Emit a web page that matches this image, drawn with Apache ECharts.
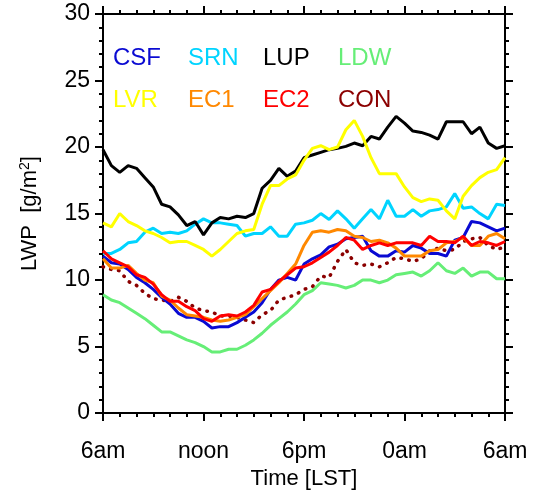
<!DOCTYPE html>
<html>
<head>
<meta charset="utf-8">
<script src="https://cdn.jsdelivr.net/npm/echarts@6/dist/echarts.min.js"></script>
<style>
  body { margin: 0; background: #fff; }
</style>
</head>
<body>
<div id="lwpChart" style="width: 536px; height: 495px;"></div>
<script>
// hours after 6am LST, every 30 min
const hours = [0, 0.5, 1, 1.5, 2, 2.5, 3, 3.5, 4, 4.5, 5, 5.5, 6, 6.5, 7, 7.5, 8, 8.5, 9, 9.5,
  10, 10.5, 11, 11.5, 12, 12.5, 13, 13.5, 14, 14.5, 15, 15.5, 16, 16.5, 17, 17.5, 18, 18.5, 19, 19.5,
  20, 20.5, 21, 21.5, 22, 22.5, 23, 23.5, 24];
const tickLabels = ['6am', 'noon', '6pm', '0am', '6am'];

const csf = [11.8, 11.3, 11.2, 10.8, 10.2, 9.8, 9.3, 8.7, 8.2, 7.5, 7.2, 7.2,
  6.9, 6.4, 6.5, 6.5, 6.8, 7.2, 7.6, 8.3, 9.3, 10.0, 10.2, 10.0,
  11.2, 11.6, 11.9, 12.5, 12.7, 13.1, 13.2, 13.3, 12.2, 11.8, 11.8, 12.2,
  12.1, 12.6, 12.4, 12.0, 12.0, 11.8, 13.0, 13.2, 14.4, 14.3, 14.0, 13.7, 13.9];
const srn = [12.0, 12.0, 12.3, 12.8, 12.9, 13.6, 13.9, 13.5, 13.6, 13.5, 13.7, 14.2,
  14.6, 14.3, 14.3, 14.2, 14.1, 13.3, 13.5, 13.5, 14.0, 13.3, 13.3, 14.2,
  14.3, 14.5, 15.0, 14.55, 15.2, 14.6, 13.9, 14.6, 15.3, 14.6, 16.0, 14.8,
  14.8, 15.3, 14.8, 15.2, 15.3, 15.5, 16.5, 15.4, 15.5, 15.0, 14.6, 15.7, 15.6];
const lup = [19.8, 18.6, 18.1, 18.6, 18.4, 17.7, 17.0, 15.7, 15.5, 14.9, 14.1, 14.4,
  13.4, 14.3, 14.7, 14.6, 14.8, 14.7, 15.0, 16.9, 17.5, 18.4, 17.8, 18.2,
  19.2, 19.4, 19.6, 19.8, 19.9, 20.05, 20.3, 20.1, 20.8, 20.6, 21.5, 22.3,
  21.8, 21.2, 21.1, 20.9, 20.6, 21.9, 21.9, 21.9, 21.0, 21.5, 20.3, 19.9, 20.1];
const ldw = [8.9, 8.5, 8.3, 7.9, 7.5, 7.1, 6.6, 6.1, 6.1, 5.8, 5.5, 5.3,
  5.0, 4.6, 4.6, 4.8, 4.8, 5.1, 5.5, 6.0, 6.6, 7.1, 7.6, 8.2,
  8.9, 9.2, 9.8, 9.7, 9.6, 9.4, 9.6, 10.0, 10.0, 9.8, 10.0, 10.4,
  10.5, 10.6, 10.3, 10.7, 11.3, 10.7, 10.5, 10.9, 10.3, 10.6, 10.6, 10.1, 10.1];
const lvr = [14.3, 14.0, 15.0, 14.4, 14.1, 13.7, 13.5, 13.2, 12.8, 12.9, 12.9, 12.6,
  12.3, 11.8, 12.3, 12.9, 13.5, 13.7, 13.8, 15.7, 17.1, 17.1, 17.6, 17.9,
  19.0, 19.9, 20.1, 19.8, 20.0, 21.3, 22.0, 20.8, 19.2, 18.0, 18.0, 18.0,
  17.0, 16.2, 15.9, 16.1, 16.0, 15.2, 14.6, 16.3, 17.1, 17.7, 18.1, 18.3, 19.2];
const ec1 = [11.6, 10.9, 10.9, 11.1, 10.5, 10.0, 9.8, 8.8, 8.5, 7.9, 7.4, 7.3,
  7.2, 7.0, 6.9, 7.0, 7.2, 7.4, 8.0, 8.6, 9.2, 9.8, 10.5, 11.2,
  12.6, 13.6, 13.7, 13.6, 13.8, 13.7, 13.3, 13.2, 12.9, 13.0, 12.8, 12.4,
  11.8, 11.8, 11.8, 12.2, 12.3, 12.8, 12.9, 13.2, 12.6, 12.6, 13.3, 13.5, 13.1];
const ec2 = [12.2, 11.6, 11.3, 11.0, 10.4, 10.2, 9.7, 8.9, 8.4, 8.4, 8.0, 7.7,
  7.1, 6.9, 7.3, 7.4, 7.3, 7.6, 8.1, 9.1, 9.3, 9.9, 10.4, 10.9,
  11.0, 11.3, 11.7, 12.1, 12.6, 13.2, 13.0, 12.3, 12.6, 12.8, 12.6, 12.8,
  12.8, 12.8, 12.6, 13.3, 12.9, 12.9, 12.8, 13.3, 12.6, 12.9, 12.8, 12.6, 12.9];
const con = [11.0, 10.8, 10.7, 9.9, 9.6, 9.0, 8.6, 8.5, 8.4, 8.7, 8.4, 7.9,
  7.7, 7.6, 7.3, 7.3, 7.2, 7.0, 6.8, 7.4, 7.7, 8.5, 8.7, 8.9,
  9.3, 9.5, 10.3, 10.2, 11.4, 12.3, 11.3, 11.1, 11.2, 11.0, 11.3, 11.7,
  11.6, 11.4, 11.6, 12.2, 12.4, 12.2, 12.3, 12.9, 13.1, 13.2, 12.6, 12.3, 12.5];

// legend order (two rows of four)
const names = ['CSF', 'SRN', 'LUP', 'LDW', 'LVR', 'EC1', 'EC2', 'CON'];
const colors = {
  CSF: '#0a0ad2', SRN: '#00d4ff', LUP: '#000000', LDW: '#66ee77',
  LVR: '#ffff00', EC1: '#ff8800', EC2: '#ff0000', CON: '#8b0000'
};
const values = { CSF: csf, SRN: srn, LUP: lup, LDW: ldw, LVR: lvr, EC1: ec1, EC2: ec2, CON: con };
// drawing order, last on top
const drawOrder = ['LDW', 'SRN', 'LUP', 'LVR', 'CON', 'CSF', 'EC1', 'EC2'];

const font = 'Liberation Sans, Arial, sans-serif';

function axisCommon(showLabels) {
  return {
    axisLine: { show: true, onZero: false, lineStyle: { color: '#000', width: 2 } },
    axisTick: { show: true, inside: false, length: 8, lineStyle: { color: '#000', width: 2 } },
    minorTick: { show: true, length: 4, lineStyle: { color: '#000', width: 2 } },
    splitLine: { show: false },
    axisLabel: { show: showLabels, color: '#000', fontSize: 23, fontFamily: font }
  };
}

let chart = echarts.init(document.getElementById('lwpChart'));

let series = drawOrder.map(function (n) {
  return {
    name: n,
    type: 'line',
    xAxisIndex: 0,
    yAxisIndex: 0,
    showSymbol: false,
    symbol: 'none',
    data: hours.map(function (h, i) { return [h, values[n][i]]; }),
    lineStyle: n === 'CON'
      ? { color: colors[n], width: 3.5, type: [0.5, 7.5], cap: 'round' }
      : { color: colors[n], width: 3 },
    itemStyle: { color: colors[n] },
    z: 3
  };
});

let legendText = names.map(function (n, k) {
  return {
    type: 'text',
    left: 113 + (k % 4) * 75,
    top: 46 + Math.floor(k / 4) * 42,
    style: { text: n, fill: colors[n], font: '24px ' + font }
  };
});

let xBottom = Object.assign(axisCommon(true), {
  type: 'value', position: 'bottom', min: 0, max: 24, interval: 6,
  name: 'Time [LST]', nameLocation: 'middle', nameGap: 53,
  nameTextStyle: { color: '#000', fontSize: 22, fontFamily: font }
});
xBottom.minorTick.splitNumber = 6;
xBottom.axisLabel.margin = 27;
xBottom.axisLabel.formatter = function (v) { return tickLabels[Math.round(v / 6)]; };

let xTop = Object.assign(axisCommon(false), {
  type: 'value', position: 'top', min: 0, max: 24, interval: 6
});
xTop.minorTick.splitNumber = 6;

let yLeft = Object.assign(axisCommon(true), {
  type: 'value', position: 'left', min: 0, max: 30, interval: 5,
  name: 'LWP  [g/m{sup|2}]', nameLocation: 'middle', nameGap: 62,
  nameTextStyle: {
    color: '#000', fontSize: 22, fontFamily: font,
    rich: { sup: { fontSize: 14, fontFamily: font, color: '#000', verticalAlign: 'bottom', padding: [0, 0, 9, 0] } }
  }
});
yLeft.minorTick.splitNumber = 5;
yLeft.axisLabel.margin = 13;

let yRight = Object.assign(axisCommon(false), {
  type: 'value', position: 'right', min: 0, max: 30, interval: 5
});
yRight.minorTick.splitNumber = 5;

chart.setOption({
  animation: false,
  backgroundColor: '#fff',
  grid: { left: 103, right: 31, top: 14, bottom: 81, containLabel: false },
  xAxis: [xBottom, xTop],
  yAxis: [yLeft, yRight],
  graphic: legendText,
  series: series
});
</script>
</body>
</html>
